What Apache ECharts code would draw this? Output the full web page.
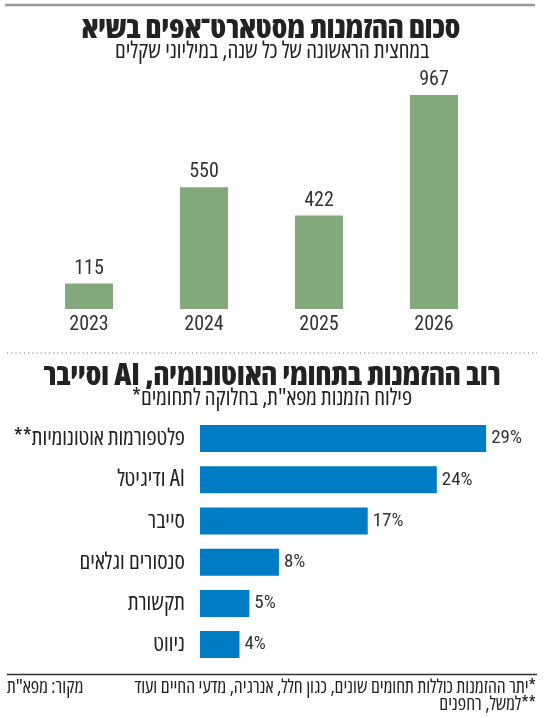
<!DOCTYPE html>
<html>
<head>
<meta charset="utf-8">
<script src="https://cdn.jsdelivr.net/npm/echarts@6/dist/echarts.min.js"></script>
<style>
  html, body { margin: 0; padding: 0; background: #fff; }
  #main { width: 550px; height: 718px; }
</style>
</head>
<body>
<div id="main" dir="rtl"></div>
<script>
// נתונים
var years = ['2023', '2024', '2025', '2026'];
var amounts = [115, 550, 422, 967];

var fields = ['פלטפורמות אוטונומיות**', 'AI ודיגיטל', 'סייבר', 'סנסורים וגלאים', 'תקשורת', 'ניווט'];
var shares = [29, 24, 17, 8, 5, 4];

var HEB = '"Open Sans", "DejaVu Sans", sans-serif';
var NUM = 'Roboto, "Open Sans", sans-serif';
var TXT = '#222';

var myChart = echarts.init(document.getElementById('main'));

function txt(x, y, text, size, weight, align) {
    return {
        type: 'text', x: x, y: y, silent: true,
        style: {
            text: text, fill: TXT,
            font: 'condensed ' + (weight || 'normal') + ' ' + size + 'px ' + HEB,
            textAlign: align || 'center', textVerticalAlign: 'middle'
        }
    };
}

var option = {
    animation: false,
    graphic: [
        { type: 'line', silent: true, shape: { x1: 5, y1: 5, x2: 535, y2: 5 }, style: { stroke: '#999', lineWidth: 2.5 } },
        txt(271, 29, 'סכום ההזמנות מסטארט־אפים בשיא', 30, 800),
        txt(272, 51, 'במחצית הראשונה של כל שנה, במיליוני שקלים', 23),
        { type: 'line', silent: true, shape: { x1: 7, y1: 353, x2: 537, y2: 353 }, style: { stroke: '#777', lineWidth: 1.2, lineDash: [1.2, 3] } },
        txt(272, 376, 'רוב ההזמנות בתחומי האוטונומיה, AI וסייבר', 30, 800),
        txt(272, 398, 'פילוח הזמנות מפא"ת, בחלוקה לתחומים*', 23),
        { type: 'line', silent: true, shape: { x1: 7, y1: 674.5, x2: 537, y2: 674.5 }, style: { stroke: '#333', lineWidth: 1.5 } },
        txt(536, 688, '*יתר ההזמנות כוללות תחומים שונים, כגון חלל, אנרגיה, מדעי החיים ועוד', 19, 'normal', 'right'),
        txt(536, 705, '**למשל, רחפנים', 19, 'normal', 'right'),
        txt(7, 688, 'מקור: מפא"ת', 19, 'normal', 'left')
    ],
    grid: [
        { left: 31.5, width: 460, top: 87.7, height: 221.3 },
        { left: 200, width: 296, top: 418, height: 247.2 }
    ],
    xAxis: [
        {
            gridIndex: 0, type: 'category', data: years,
            axisLine: { show: false }, axisTick: { show: false },
            axisLabel: { fontSize: 20, color: '#333', margin: 6, fontStyle: 'condensed', fontFamily: NUM }
        },
        {
            gridIndex: 1, type: 'value', min: 0, max: 30, show: false
        }
    ],
    yAxis: [
        { gridIndex: 0, type: 'value', min: 0, max: 1000, show: false },
        {
            gridIndex: 1, type: 'category', data: fields, inverse: true,
            axisLine: { show: false }, axisTick: { show: false },
            axisLabel: { fontSize: 23, color: TXT, margin: 15, fontStyle: 'condensed', fontFamily: HEB }
        }
    ],
    series: [
        {
            type: 'bar', xAxisIndex: 0, yAxisIndex: 0, data: amounts,
            barWidth: 48, itemStyle: { color: '#82a87c' },
            label: { show: true, position: 'top', distance: 5, fontSize: 20, color: '#333', fontStyle: 'condensed', fontFamily: NUM }
        },
        {
            type: 'bar', xAxisIndex: 1, yAxisIndex: 1, data: shares,
            barWidth: 27, itemStyle: { color: '#007cc4' },
            label: { show: true, position: 'right', distance: 5, fontSize: 19, color: '#333', fontStyle: 'condensed', fontFamily: NUM, formatter: '{c}%' }
        }
    ]
};

myChart.setOption(option);
</script>
</body>
</html>
